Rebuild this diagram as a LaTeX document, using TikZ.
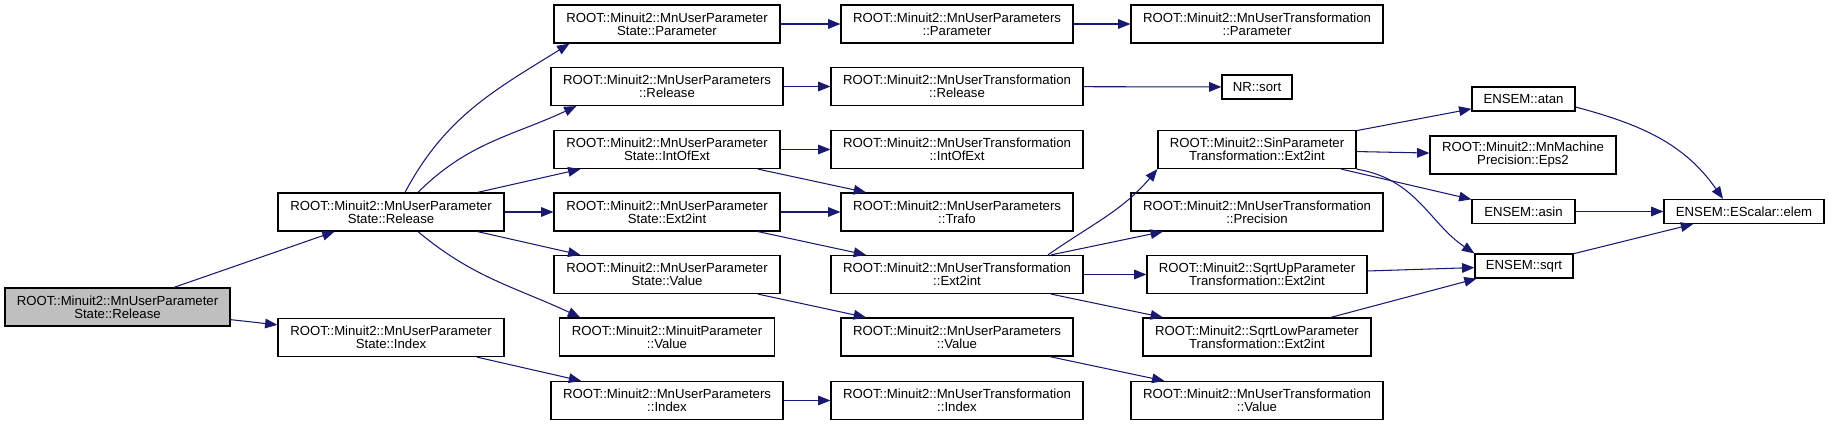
\documentclass[tikz,border=0pt]{standalone}
\usepackage{fontspec}
\setmainfont{Liberation Sans}
\usetikzlibrary{arrows.meta,calc}
\definecolor{edge}{HTML}{191970}
\definecolor{rootgray}{HTML}{BFBFBF}
\tikzset{
  fn/.style={draw=black, line width=0.7pt, fill=white, align=center, inner sep=0pt,
    minimum height=0.76cm, font=\fontsize{7.5pt}{7.4pt}\selectfont},
  fs/.style={fn, minimum height=0.48cm},
  call/.style={-{Triangle[length=7pt,width=5.5pt]}, line width=0.6pt, color=edge},
}

\begin{document}
\begin{tikzpicture}[x=0.02cm, y=0.02cm]
  \useasboundingbox (0,0) rectangle (1829,-425);
  \node[fn, fill=rootgray, minimum width=4.5cm] (cur) at (117.5,-307) {ROOT::Minuit2::MnUserParameter\\State::Release};
  \node[fn, minimum width=4.52cm] (psrel) at (391,-212) {ROOT::Minuit2::MnUserParameter\\State::Release};
  \node[fn, minimum width=4.52cm] (psidx) at (391,-337.5) {ROOT::Minuit2::MnUserParameter\\State::Index};
  \node[fn, minimum width=4.52cm] (pspar) at (667,-24) {ROOT::Minuit2::MnUserParameter\\State::Parameter};
  \node[fn, minimum width=4.64cm] (uprel) at (667,-86.5) {ROOT::Minuit2::MnUserParameters\\::Release};
  \node[fn, minimum width=4.52cm] (psint) at (667,-149.5) {ROOT::Minuit2::MnUserParameter\\State::IntOfExt};
  \node[fn, minimum width=4.52cm] (psext) at (667,-212) {ROOT::Minuit2::MnUserParameter\\State::Ext2int};
  \node[fn, minimum width=4.52cm] (psval) at (667,-274.5) {ROOT::Minuit2::MnUserParameter\\State::Value};
  \node[fn, minimum width=4.29cm] (mpval) at (667,-337) {ROOT::Minuit2::MinuitParameter\\::Value};
  \node[fn, minimum width=4.64cm] (upidx) at (667,-400.5) {ROOT::Minuit2::MnUserParameters\\::Index};
  \node[fn, minimum width=4.64cm] (uppar) at (957,-24) {ROOT::Minuit2::MnUserParameters\\::Parameter};
  \node[fn, minimum width=5.04cm] (utrel) at (957,-86.5) {ROOT::Minuit2::MnUserTransformation\\::Release};
  \node[fn, minimum width=5.04cm] (utint) at (957,-149.5) {ROOT::Minuit2::MnUserTransformation\\::IntOfExt};
  \node[fn, minimum width=4.64cm] (uptrafo) at (957,-212) {ROOT::Minuit2::MnUserParameters\\::Trafo};
  \node[fn, minimum width=5.04cm] (utext) at (957,-274.5) {ROOT::Minuit2::MnUserTransformation\\::Ext2int};
  \node[fn, minimum width=4.64cm] (upval) at (957,-337) {ROOT::Minuit2::MnUserParameters\\::Value};
  \node[fn, minimum width=5.04cm] (utidx) at (957,-400.5) {ROOT::Minuit2::MnUserTransformation\\::Index};
  \node[fn, minimum width=5.04cm] (utpar) at (1257,-24) {ROOT::Minuit2::MnUserTransformation\\::Parameter};
  \node[fs, minimum width=1.4cm] (nrsort) at (1257,-87) {NR::sort};
  \node[fn, minimum width=3.96cm] (sinext) at (1257,-149.5) {ROOT::Minuit2::SinParameter\\Transformation::Ext2int};
  \node[fn, minimum width=5.04cm] (utprec) at (1257,-212) {ROOT::Minuit2::MnUserTransformation\\::Precision};
  \node[fn, minimum width=4.4cm] (supext) at (1257,-274.5) {ROOT::Minuit2::SqrtUpParameter\\Transformation::Ext2int};
  \node[fn, minimum width=4.56cm] (slowext) at (1257,-337) {ROOT::Minuit2::SqrtLowParameter\\Transformation::Ext2int};
  \node[fn, minimum width=5.04cm] (utval) at (1257,-400.5) {ROOT::Minuit2::MnUserTransformation\\::Value};
  \node[fs, minimum width=2.06cm] (eatan) at (1523.5,-99) {ENSEM::atan};
  \node[fn, minimum width=3.72cm] (mmeps) at (1523,-155) {ROOT::Minuit2::MnMachine\\Precision::Eps2};
  \node[fs, minimum width=2.06cm] (easin) at (1523.5,-211.5) {ENSEM::asin};
  \node[fs, minimum width=1.96cm] (esqrt) at (1524,-266) {ENSEM::sqrt};
  \node[fs, minimum width=3.2cm] (eelem) at (1744,-211.5) {ENSEM::EScalar::elem};
  % calls
  \draw[call] (cur) -- (psrel);
  \draw[call] (cur) -- (psidx);
  \draw[call] ($(psrel.north)+(14,0)$) to[out=62,in=-148] ($(pspar.south west)+(16,0)$);
  \draw[call] ($(psrel.north)+(27,0)$) to[out=45,in=-155] ($(uprel.south west)+(26,0)$);
  \draw[call] (psrel) -- (psint);
  \draw[call] (psrel) -- (psext);
  \draw[call] (psrel) -- (psval);
  \draw[call] ($(psrel.south)+(27,0)$) to[out=-40,in=155] ($(mpval.north west)+(21,0)$);
  \draw[call] (psidx) -- (upidx);
  \draw[call] (pspar) -- (uppar);
  \draw[call] (uppar) -- (utpar);
  \draw[call] (uprel) -- (utrel);
  \draw[call] (utrel) -- (nrsort);
  \draw[call] (psint) -- (utint);
  \draw[call] (psint) -- (uptrafo);
  \draw[call] (psext) -- (uptrafo);
  \draw[call] (psext) -- (utext);
  \draw[call] (psval) -- (upval);
  \draw[call] (upidx) -- (utidx);
  \draw[call] (upval) -- (utval);
  \draw[call] ($(utext.north)+(91,0)$) to[out=35,in=-130] (sinext.south west);
  \draw[call] (utext) -- (utprec);
  \draw[call] (utext) -- (supext);
  \draw[call] (utext) -- (slowext);
  \draw[call] (sinext) -- (eatan);
  \draw[call] (sinext) -- (mmeps);
  \draw[call] (sinext) -- (easin);
  \draw[call] (sinext.south east) .. controls +(60,-10) and +(-45,30) .. (esqrt.north west);
  \draw[call] ($(eatan.east)+(0,-8)$) to[out=-15,in=125] ($(eelem.north)+(-21,0)$);
  \draw[call] (easin) -- (eelem);
  \draw[call] (supext) -- (esqrt);
  \draw[call] (slowext) -- (esqrt);
  \draw[call] (esqrt) -- (eelem);
\end{tikzpicture}
\end{document}
